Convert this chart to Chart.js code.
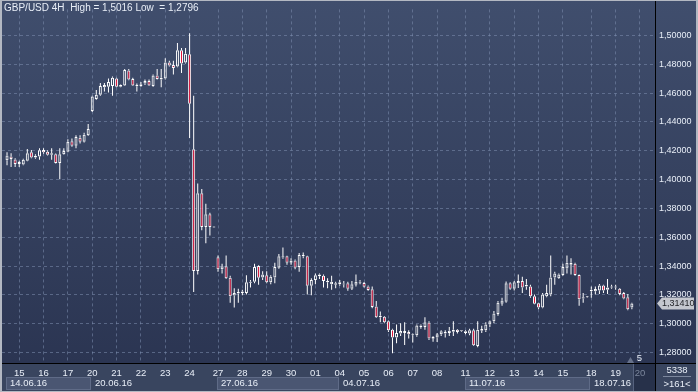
<!DOCTYPE html>
<html><head><meta charset="utf-8">
<script src="https://cdn.jsdelivr.net/npm/chart.js@4/dist/chart.umd.min.js"></script>
<style>html,body{margin:0;padding:0;background:#333f5c;overflow:hidden}canvas{display:block}</style>
</head><body>
<canvas id="c" width="698" height="392"></canvas>
<script>
// ---- data (GBP/USD 4H candles, 14.06.16 - 19.07.16) ----
const openP = [1.4134,1.4161,1.4140,1.4109,1.4105,1.4131,1.4190,1.4154,1.4161,1.4206,1.4194,1.4172,1.4176,1.4116,1.4176,1.4194,1.4266,1.4235,1.4291,1.4262,1.4307,
1.4476,1.4559,1.4588,1.4640,1.4645,1.4649,1.4701,1.4645,1.4653,1.4757,1.4698,1.4647,1.4649,1.4667,1.4685,1.4649,1.4723,1.4694,1.4701,1.4813,1.4795,1.4784,1.4897,1.4813,
1.4869,1.4210,1.3365,1.3905,1.3671,1.3759,1.3672,
1.3461,1.3378,1.3398,1.3319,1.3195,1.3209,1.3213,1.3213,1.3285,1.3292,1.3400,1.3321,1.3337,1.3288,1.3321,1.3389,1.3468,1.3468,1.3423,1.3438,1.3393,1.3468,1.3468,1.3263,
1.3303,1.3330,1.3333,1.3297,1.3274,1.3281,1.3274,1.3279,1.3281,1.3243,1.3270,1.3292,1.3283,1.3258,1.3240,1.3120,1.3045,1.3049,1.3017,1.2959,1.2905,1.2932,1.2936,1.2943,
1.2927,1.2920,1.2988,1.2977,1.3008,1.2896,1.2905,1.2927,1.2932,1.2936,1.2945,1.2959,1.2948,1.2936,1.2932,1.2954,1.2846,1.2952,1.2954,1.2995,1.3017,1.3067,1.3139,1.3153,
1.3281,1.3243,1.3281,1.3297,1.3259,1.3259,1.3191,1.3142,1.3112,1.3191,1.3203,1.3320,1.3315,1.3338,1.3383,1.3410,1.3417,1.3338,1.3175,1.3184,1.3225,1.3225,1.3230,1.3266,
1.3236,1.3252,1.3259,1.3243,1.3214,1.3184,1.3112];
const highP = [1.4190,1.4183,1.4149,1.4131,1.4145,1.4212,1.4206,1.4176,1.4217,1.4217,1.4203,1.4217,1.4181,1.4217,1.4217,1.4280,1.4285,1.4307,1.4307,1.4325,1.4386,
1.4582,1.4622,1.4671,1.4671,1.4701,1.4716,1.4707,1.4660,1.4768,1.4768,1.4707,1.4667,1.4678,1.4694,1.4694,1.4730,1.4768,1.4768,1.4842,1.4824,1.4824,1.4948,1.4914,1.4914,
1.5016,1.4581,1.3973,1.3934,1.3833,1.3770,1.3673,
1.3473,1.3416,1.3473,1.3333,1.3247,1.3243,1.3236,1.3337,1.3303,1.3416,1.3405,1.3364,1.3364,1.3337,1.3423,1.3484,1.3529,1.3472,1.3454,1.3445,1.3490,1.3495,1.3472,1.3315,
1.3348,1.3348,1.3342,1.3315,1.3333,1.3292,1.3303,1.3297,1.3292,1.3297,1.3342,1.3303,1.3290,1.3265,1.3258,1.3157,1.3085,1.3053,1.3022,1.2966,1.2995,1.3004,1.3011,1.2954,
1.2932,1.2995,1.2995,1.3045,1.3017,1.2914,1.2936,1.2954,1.2954,1.2977,1.3017,1.2963,1.2950,1.2954,1.2966,1.2966,1.3017,1.2986,1.3011,1.3022,1.3089,1.3158,1.3180,1.3293,
1.3288,1.3297,1.3342,1.3326,1.3311,1.3270,1.3203,1.3146,1.3214,1.3270,1.3473,1.3360,1.3349,1.3417,1.3473,1.3455,1.3423,1.3342,1.3214,1.3189,1.3259,1.3259,1.3275,1.3270,
1.3311,1.3270,1.3270,1.3248,1.3221,1.3207,1.3146];
const lowP = [1.4100,1.4087,1.4087,1.4087,1.4100,1.4127,1.4149,1.4145,1.4138,1.4179,1.4167,1.4138,1.4111,1.4003,1.4172,1.4190,1.4228,1.4217,1.4251,1.4257,1.4302,
1.4469,1.4554,1.4581,1.4611,1.4604,1.4581,1.4640,1.4640,1.4649,1.4689,1.4649,1.4611,1.4644,1.4656,1.4649,1.4644,1.4694,1.4640,1.4694,1.4784,1.4730,1.4779,1.4739,1.4806,
1.4288,1.3220,1.3342,1.3648,1.3558,1.3612,1.3669,
1.3360,1.3348,1.3310,1.3146,1.3112,1.3146,1.3197,1.3202,1.3251,1.3281,1.3270,1.3303,1.3281,1.3274,1.3281,1.3382,1.3450,1.3409,1.3409,1.3378,1.3360,1.3454,1.3202,1.3197,
1.3274,1.3310,1.3252,1.3247,1.3236,1.3247,1.3263,1.3251,1.3229,1.3234,1.3258,1.3274,1.3252,1.3229,1.3107,1.3040,1.3011,1.3004,1.2943,1.2796,1.2864,1.2914,1.2853,1.2898,
1.2869,1.2909,1.2966,1.2959,1.2887,1.2875,1.2873,1.2914,1.2905,1.2914,1.2914,1.2932,1.2945,1.2927,1.2920,1.2846,1.2837,1.2936,1.2943,1.2977,1.3004,1.3056,1.3124,1.3146,
1.3236,1.3230,1.3248,1.3214,1.3236,1.3180,1.3135,1.3101,1.3108,1.3184,1.3191,1.3270,1.3311,1.3333,1.3349,1.3342,1.3333,1.3124,1.3146,1.3180,1.3180,1.3203,1.3207,1.3214,
1.3207,1.3243,1.3236,1.3198,1.3169,1.3094,1.3101];
const closeP = [1.4167,1.4143,1.4109,1.4122,1.4138,1.4183,1.4154,1.4165,1.4203,1.4190,1.4172,1.4183,1.4116,1.4176,1.4199,1.4262,1.4235,1.4296,1.4262,1.4311,1.4352,
1.4577,1.4588,1.4649,1.4656,1.4678,1.4707,1.4645,1.4656,1.4761,1.4694,1.4653,1.4656,1.4662,1.4685,1.4653,1.4723,1.4698,1.4707,1.4813,1.4791,1.4775,1.4897,1.4806,1.4874,
1.4527,1.3365,1.3905,1.3671,1.3759,1.3671,1.3667,
1.3378,1.3398,1.3315,1.3191,1.3213,1.3220,1.3224,1.3288,1.3292,1.3393,1.3319,1.3342,1.3288,1.3326,1.3393,1.3468,1.3459,1.3423,1.3439,1.3389,1.3477,1.3477,1.3263,1.3303,
1.3337,1.3342,1.3297,1.3288,1.3292,1.3270,1.3288,1.3272,1.3243,1.3274,1.3292,1.3285,1.3256,1.3234,1.3116,1.3045,1.3056,1.3011,1.2954,1.2905,1.2936,1.2950,1.2950,1.2927,
1.2920,1.2988,1.2977,1.3011,1.2898,1.2909,1.2927,1.2948,1.2943,1.2952,1.2959,1.2943,1.2947,1.2948,1.2954,1.2851,1.2959,1.2963,1.2995,1.3017,1.3071,1.3146,1.3162,1.3281,
1.3243,1.3288,1.3297,1.3252,1.3270,1.3191,1.3139,1.3112,1.3203,1.3214,1.3320,1.3349,1.3342,1.3394,1.3423,1.3423,1.3338,1.3169,1.3184,1.3185,1.3236,1.3241,1.3266,1.3230,
1.3252,1.3259,1.3252,1.3207,1.3175,1.3101,1.3141];

// bottom axis: day labels and the candle index where each day starts
const dayLabels = ['15','16','17','20','21','22','23','24','27','28','29','30','01','04','05','06','07','08','11','12','13','14','15','18','19','20'];
const dayIndex  = [3,9,15,21,27,33,39,45,52,58,64,70,76,82,88,94,100,106,113,119,125,131,137,144,150,156];
const weekLabels = ['14.06.16','20.06.16','27.06.16','04.07.16','11.07.16','18.07.16'];
const weekStart  = [0,21,52,82,113,144];
const yTicks = [1.28,1.30,1.32,1.34,1.36,1.38,1.40,1.42,1.44,1.46,1.48,1.50];
const titleText = 'GBP/USD 4H  High = 1,5016 Low  = 1,2796';
const lastPrice = 1.31410;
const infoTop = '5338', infoBottom = '>161<', shiftText = '5';

// ---- styles ----
const FONT = "'Liberation Sans', Arial, sans-serif";
const RED = '#e3173d';
const TXT = '#e8eef7';
const GRID = 'rgba(125,142,175,0.55)';
const fmt = v => v.toFixed(5).replace('.', ',');

const bodies = openP.map((o, i) => ({x: i, y: [o, closeP[i]]}));
const bodyFill = openP.map((o, i) => closeP[i] < o ? RED : 'rgba(0,0,0,0)');
const upperWick = openP.map((o, i) => ({x: i, y: [Math.max(o, closeP[i]), highP[i]]}));
const lowerWick = openP.map((o, i) => ({x: i, y: [lowP[i], Math.min(o, closeP[i])]}));

const decor = {
  id: 'decor',
  beforeDraw(chart) {
    const {ctx} = chart, W = chart.width, H = chart.height;
    const xs = chart.scales.x;
    ctx.save();
    const g = ctx.createLinearGradient(0, 0, 0, 363);
    g.addColorStop(0, '#404e6d');
    g.addColorStop(1, '#2b3552');
    ctx.fillStyle = g; ctx.fillRect(0, 0, W, 363);
    ctx.fillStyle = '#39455f'; ctx.fillRect(0, 363, W, H - 363);
    // alternating week boxes
    for (let k = 0; k < weekStart.length; k += 2) {
      const x0 = Math.round(xs.getPixelForValue(weekStart[k])) - 1;
      const x1 = k + 1 < weekStart.length ? Math.round(xs.getPixelForValue(weekStart[k + 1])) - 1 : 655;
      ctx.fillStyle = '#4a5672'; ctx.fillRect(x0, 377, x1 - x0, 13);
      ctx.strokeStyle = '#5f6b87'; ctx.lineWidth = 1; ctx.strokeRect(x0 + 0.5, 377.5, x1 - x0 - 1, 12);
    }
    // current (future) day box
    const dx = Math.round(xs.getPixelForValue(dayIndex[dayIndex.length - 1])) - 7;
    ctx.fillStyle = '#27314a'; ctx.fillRect(dx, 364, 655 - dx, 27);
    ctx.fillStyle = '#56627e'; ctx.fillRect(dx, 364, 1, 27);
    ctx.restore();
  },
  afterDraw(chart) {
    const {ctx} = chart, W = chart.width, H = chart.height;
    const xs = chart.scales.x, ys = chart.scales.y;
    ctx.save();
    // black separators
    ctx.fillStyle = '#000';
    ctx.fillRect(0, 363, W, 1);
    ctx.fillRect(655, 0, 1, H);
    // outer frame
    ctx.fillStyle = '#b3b8c2';
    ctx.fillRect(0, 0, 2, H); ctx.fillRect(0, 0, W, 1);
    ctx.fillRect(W - 2, 0, 2, H); ctx.fillRect(0, H - 1, W, 1);
    ctx.textBaseline = 'middle';
    // title
    ctx.font = '10px ' + FONT;
    ctx.fillStyle = TXT; ctx.textAlign = 'left';
    ctx.fillText(titleText, 4, 8);
    // week labels
    ctx.font = '9.5px ' + FONT;
    for (let k = 0; k < weekStart.length; k++) {
      ctx.fillText(weekLabels[k], Math.round(xs.getPixelForValue(weekStart[k])) + 3, 383.5);
    }
    ctx.font = '9.5px ' + FONT;
    // chart shift marker
    ctx.fillStyle = '#67728b';
    ctx.beginPath(); ctx.moveTo(627, 363); ctx.lineTo(630.5, 357); ctx.lineTo(634, 363); ctx.closePath(); ctx.fill();
    ctx.fillStyle = TXT; ctx.textAlign = 'center';
    ctx.fillText(shiftText, 639.5, 358.5);
    // info panel
    ctx.fillText(infoTop, 677, 370.5);
    ctx.fillText(infoBottom, 677, 384);
    ctx.fillStyle = '#7c879d'; ctx.fillRect(663, 376, 28, 1);
    // price tag
    ctx.font = '9px ' + FONT;
    const py = Math.round(ys.getPixelForValue(lastPrice));
    ctx.fillStyle = '#c4c7ce';
    ctx.beginPath(); ctx.moveTo(657, py + 0.5); ctx.lineTo(662, py - 5.5); ctx.lineTo(694, py - 5.5);
    ctx.lineTo(694, py + 6.5); ctx.lineTo(662, py + 6.5); ctx.closePath(); ctx.fill();
    ctx.fillStyle = '#1d1f24'; ctx.textAlign = 'left';
    ctx.fillText(fmt(lastPrice), 662, py + 0.5);
    ctx.restore();
  }
};

const wickOpts = {type: 'bar', grouped: false, barThickness: 1, backgroundColor: '#ffffff', borderWidth: 0, inflateAmount: 0};

new Chart(document.getElementById('c'), {
  type: 'bar',
  data: {
    datasets: [
      Object.assign({label: 'upper', data: upperWick}, wickOpts),
      Object.assign({label: 'lower', data: lowerWick}, wickOpts),
      {label: 'body', data: bodies, grouped: false, barThickness: 3, backgroundColor: bodyFill,
       borderColor: '#ffffff', borderWidth: 1, borderSkipped: false, minBarLength: 1, inflateAmount: 0}
    ]
  },
  options: {
    responsive: false, animation: false, devicePixelRatio: 1,
    layout: {padding: {left: 2, top: 1, right: 0, bottom: 0}},
    plugins: {legend: {display: false}, tooltip: {enabled: false}, title: {display: false}},
    scales: {
      x: {
        type: 'linear', min: -1.239, max: 159.70, offset: false,
        afterBuildTicks: s => { s.ticks = dayIndex.map(v => ({value: v})); },
        afterFit: s => { s.height = 29; },
        grid: {offset: false, color: GRID, drawTicks: false, lineWidth: 1},
        border: {display: false, dash: [3, 3]},
        ticks: {
          autoSkip: false, maxRotation: 0, padding: 5,
          font: {family: FONT, size: 9.5},
          color: c => (c.index === dayIndex.length - 1 ? '#7b869c' : TXT),
          callback: v => dayLabels[dayIndex.indexOf(v)]
        }
      },
      y: {
        type: 'linear', position: 'right', min: 1.27275, max: 1.5181, beginAtZero: false,
        afterBuildTicks: s => { s.ticks = yTicks.map(v => ({value: v})); },
        afterFit: s => { s.width = 43; },
        grid: {color: GRID, drawTicks: false, lineWidth: 1},
        border: {display: false, dash: [3, 3]},
        ticks: {padding: 4, font: {family: FONT, size: 9}, color: TXT, callback: v => fmt(v)}
      }
    }
  },
  plugins: [decor]
});
</script>
</body></html>
